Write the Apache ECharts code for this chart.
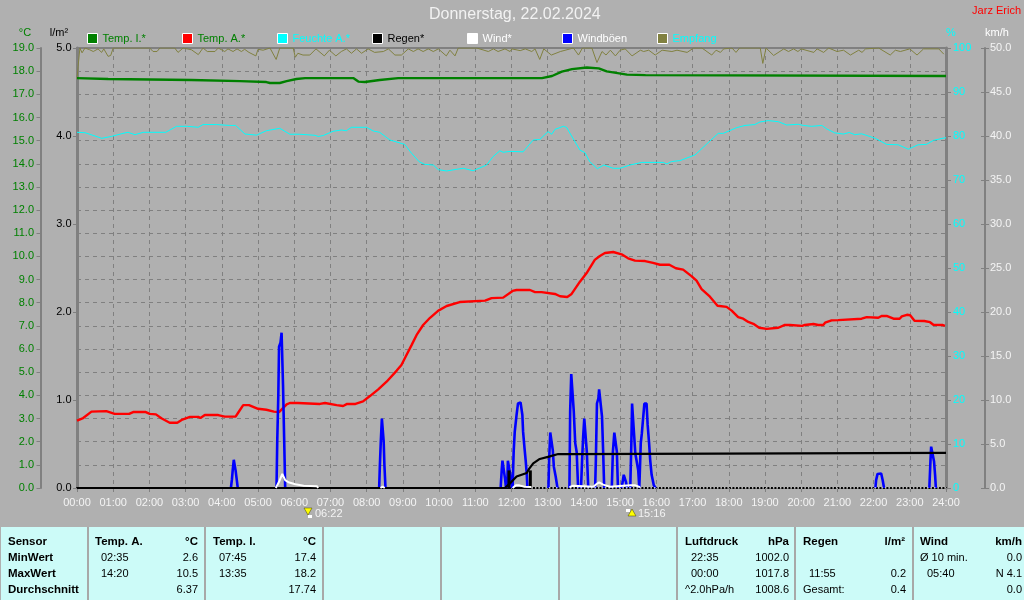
<!DOCTYPE html>
<html><head><meta charset="utf-8">
<style>html,body{margin:0;padding:0;background:#b0b0b0}#c{width:1024px;height:600px}</style>
<script src="https://cdn.jsdelivr.net/npm/echarts@6/dist/echarts.min.js"></script>
</head><body><div id="c"></div>
<script>
const titleText = "Donnerstag, 22.02.2024";
const ownerText = "Jarz Erich";
const tempI = [[0,17.7],[0.86,17.66],[3.16,17.62],[4.5,17.57],[5.23,17.53],[5.33,17.49],[5.6,17.49],[5.79,17.57],[6.06,17.66],[6.3,17.7],[7.63,17.7],[7.77,17.55],[7.95,17.53],[8.36,17.62],[8.87,17.7],[12.84,17.7],[13.12,17.79],[13.39,17.98],[13.67,18.09],[14.08,18.16],[14.41,18.12],[14.63,17.99],[15.19,17.85],[15.7,17.83],[15.71,17.79],[24,17.79]];
const tempA = [[0,2.91],[0.17,3.02],[0.4,3.3],[0.81,3.32],[1.04,3.2],[1.44,3.2],[1.55,3.28],[1.9,3.28],[2.01,3.2],[2.18,3.18],[2.33,3.01],[2.56,2.82],[2.77,2.82],[2.89,2.94],[3.12,3.07],[3.35,3.07],[3.41,3.02],[3.53,3.15],[3.9,3.15],[4.08,3.08],[4.38,3.08],[4.45,3.25],[4.59,3.58],[4.75,3.58],[5.0,3.42],[5.23,3.38],[5.44,3.3],[5.58,3.28],[5.79,3.61],[5.88,3.67],[6.1,3.67],[6.13,3.63],[6.71,3.63],[6.75,3.67],[6.85,3.67],[6.89,3.63],[7.17,3.58],[7.21,3.54],[7.35,3.54],[7.46,3.63],[7.69,3.63],[7.9,3.74],[8.09,3.97],[8.32,4.26],[8.55,4.59],[8.83,5.07],[8.96,5.31],[9.1,5.74],[9.24,6.17],[9.38,6.61],[9.56,7.04],[9.75,7.35],[9.98,7.66],[10.21,7.86],[10.57,8.03],[11.27,8.09],[11.45,8.2],[11.77,8.22],[12.03,8.51],[12.14,8.55],[12.51,8.55],[12.65,8.46],[12.83,8.46],[13.2,8.38],[13.34,8.28],[13.54,8.25],[13.66,8.38],[13.89,8.91],[14.07,9.27],[14.3,9.85],[14.44,10.02],[14.58,10.15],[14.81,10.19],[15.04,10.09],[15.22,9.92],[15.41,9.82],[15.69,9.8],[15.91,9.72],[16.1,9.64],[16.36,9.64],[16.54,9.49],[16.74,9.43],[16.97,9.15],[17.11,8.95],[17.25,8.59],[17.48,8.26],[17.69,7.87],[17.94,7.82],[18.08,7.66],[18.26,7.38],[18.4,7.31],[18.54,7.17],[18.68,7.09],[18.84,6.92],[19.05,6.87],[19.37,6.92],[19.55,7.04],[19.69,7.04],[19.74,7.0],[20.03,7.0],[20.1,7.04],[20.34,7.08],[20.47,7.04],[20.61,7.04],[20.66,7.14],[20.84,7.24],[21.02,7.25],[21.07,7.31],[21.67,7.31],[21.81,7.38],[21.86,7.35],[22.13,7.35],[22.22,7.43],[22.36,7.43],[22.55,7.31],[22.72,7.31],[22.78,7.41],[22.92,7.48],[23.01,7.46],[23.13,7.22],[23.4,7.21],[23.56,7.16],[23.65,7.05],[23.9,7.04],[23.97,7.0]];
const humidity = [[0,80.84],[0.22,80.75],[0.58,79.77],[0.68,79.47],[0.95,79.9],[1.27,80.6],[1.41,80.84],[1.6,80.3],[1.83,80.84],[2.45,80.84],[2.75,82.2],[3.05,82.2],[3.35,81.98],[3.48,82.6],[3.85,82.6],[4.22,82.4],[4.38,82.4],[4.64,80.45],[4.96,80.2],[5.23,81.2],[5.6,81.75],[5.88,80.4],[6.15,80.4],[6.2,80.16],[6.57,80.16],[6.66,79.9],[6.8,80.1],[7.07,81.07],[7.3,81.36],[7.44,81.2],[7.58,81.98],[8.0,81.98],[8.18,81.14],[8.36,80.84],[8.64,79.1],[9.05,78.1],[9.24,76.07],[9.45,74.16],[9.6,73.56],[9.84,73.4],[9.98,72.35],[10.21,72.05],[10.53,72.5],[10.67,72.66],[10.94,72.1],[11.31,73.4],[11.49,75.3],[11.68,76.66],[11.77,76.3],[11.96,76.5],[12.0,76.2],[12.32,76.4],[12.37,76.2],[12.6,79.1],[12.78,79.2],[13.01,81],[13.11,80.4],[13.2,81.5],[13.43,82.2],[13.52,81.98],[13.66,80],[13.89,76.8],[14.03,76.2],[14.16,74.16],[14.37,72.57],[14.55,73.4],[14.81,72.66],[15.0,72.66],[15.27,73.4],[15.6,74],[16.19,74],[16.29,73.64],[16.42,74.2],[16.65,74.4],[16.7,74.2],[17.07,75.7],[17.48,78.86],[17.71,80.6],[17.85,80.6],[18.22,81.9],[18.45,82.4],[18.72,82.6],[18.86,83.18],[19.09,83.5],[19.37,83.25],[19.6,82.5],[19.92,82.66],[20.06,82.4],[20.29,82.2],[20.57,82.4],[20.71,81.6],[20.93,80.7],[21.17,80.45],[21.33,80.8],[21.48,80.3],[21.67,80.5],[22.04,79.5],[22.36,78.1],[22.68,78],[22.96,77],[23.23,78],[23.46,78.1],[23.65,79],[23.92,79.5],[24,79.6]];
const rain = [[0,0],[11.82,0],[11.86,0.02],[12.0,0.07],[12.14,0.13],[12.42,0.17],[12.49,0.22],[12.6,0.28],[12.78,0.33],[13.06,0.36],[13.29,0.386],[13.52,0.386],[13.57,0.4],[24,0.4]];
const rainBars = [[11.93,0.2],[12.52,0.2]];
const wind = [[5.49,0],[5.58,0.7],[5.67,1.6],[5.75,0.9],[5.84,0.65],[6.03,0.42],[6.26,0.26],[6.63,0.19],[6.66,0],[6.66,null],[8.38,0],[8.44,0.15],[8.5,0],[8.5,null],[12.03,0],[12.12,0.3],[12.22,0.3],[12.36,0.15],[12.55,0.1],[12.55,null],[13.6,0.1],[13.7,0.25],[14.26,0.15],[14.35,0.45],[14.42,0.64],[14.53,0.38],[14.72,0.15],[14.77,0.3],[14.9,0.2],[15.28,0.3],[15.42,0.3],[15.55,0.1]];
const windDots = [[12.55,0],[24,0]];
const gusts = [[4.25,0],[4.28,1],[4.3,2],[4.33,3.2],[4.36,3.2],[4.38,2],[4.41,1],[4.44,0],[4.44,null],
[5.51,0],[5.53,5.26],[5.56,10.57],[5.58,16.06],[5.62,16.5],[5.65,17.65],[5.68,17.65],[5.69,11.7],[5.72,5.83],[5.75,0],[5.75,null],
[8.345,0],[8.365,2.6],[8.39,5.26],[8.42,7.9],[8.45,7.9],[8.47,5.26],[8.49,2.6],[8.52,0],[8.52,null],
[11.7,0],[11.73,2.05],[11.75,3.1],[11.79,3.1],[11.82,1.1],[11.85,0],[11.85,null],
[11.88,0],[11.9,3.1],[11.95,3.1],[11.98,1.1],[12.01,0],[12.01,null],
[12.03,0],[12.06,4.13],[12.09,6.4],[12.14,8.3],[12.18,9.62],[12.25,9.73],[12.3,8.3],[12.32,6.4],[12.36,4.5],[12.39,3.2],[12.42,1.67],[12.44,0],[12.44,null],
[13.02,0],[13.04,3.2],[13.07,6.3],[13.12,6.3],[13.14,4.3],[13.17,2.4],[13.22,1.3],[13.27,0],[13.27,null],
[13.6,0],[13.62,8.7],[13.65,12.95],[13.7,12.95],[13.72,8.7],[13.76,5.1],[13.8,4.1],[13.84,0],[13.84,null],
[13.92,0],[13.95,3.2],[13.98,5.9],[14.01,7.9],[14.06,7.9],[14.08,4.1],[14.12,0],[14.12,null],
[14.31,0],[14.33,3.2],[14.36,9.6],[14.4,10.2],[14.42,11.2],[14.47,11.2],[14.5,8.1],[14.53,4.3],[14.56,0],[14.56,null],
[14.77,0],[14.8,4.1],[14.84,6.3],[14.88,6.3],[14.91,4.1],[14.94,0],[14.94,null],
[15.04,0],[15.07,0.7],[15.1,1.5],[15.13,1.5],[15.16,0.7],[15.19,0],[15.19,null],
[15.28,0],[15.31,5.1],[15.33,9.6],[15.38,9.6],[15.42,3.9],[15.45,3.2],[15.5,2],[15.53,0],[15.53,null],
[15.53,0],[15.57,5.1],[15.6,6.2],[15.63,7.7],[15.67,9.6],[15.73,9.6],[15.76,7.2],[15.8,5.1],[15.83,3.2],[15.87,1.5],[15.93,0.3],[15.98,0],[15.98,null],
[22.05,0],[22.07,0.9],[22.11,1.6],[22.21,1.65],[22.25,0.9],[22.29,0],[22.29,null],
[23.54,0],[23.57,3],[23.59,4.7],[23.64,4.7],[23.67,3],[23.7,1.4],[23.72,0]];
const reception = [[0,93],[0.03,95.8],[0.08,100],[0.14,98.9],[0.22,100],[0.35,99.6],[0.45,99.2],[0.58,99.8],[0.68,99],[0.74,99.8],[0.86,98.1],[0.93,98.3],[1.0,100],[2.01,100],[2.1,99.2],[2.21,99.2],[2.29,100],[2.7,100],[2.79,99],[2.93,100],[3.16,99.6],[3.35,98.5],[3.48,100],[3.6,99.2],[3.81,99.2],[3.9,100],[4.08,99.2],[4.17,99.8],[4.31,99.2],[4.42,99.8],[4.54,99.2],[4.63,99.7],[4.75,99],[4.94,98.2],[5.0,99.7],[5.14,99.5],[5.33,100],[5.5,97.4],[5.6,100],[5.97,100],[6.03,97.9],[6.1,98.8],[6.24,98.4],[6.43,98.4],[6.6,99.8],[6.83,98.2],[6.97,99.5],[7.15,98.2],[7.3,99.2],[7.44,99.8],[7.58,98.8],[7.72,99.8],[7.86,98.8],[8.04,99.8],[8.22,99],[8.46,99.2],[8.6,99.8],[8.78,98.4],[8.96,98.4],[9.15,99.8],[9.29,99.2],[9.42,99.8],[9.56,99.2],[9.7,99.8],[9.84,99.2],[9.98,99.8],[10.2,98.2],[10.3,99.5],[10.44,98.2],[10.53,100],[11.04,100],[11.36,99.2],[11.5,99.8],[11.63,99.2],[11.82,99.8],[11.96,99.2],[12.01,99.8],[12.24,99.4],[12.38,99.8],[12.56,99.2],[12.65,99.8],[12.78,97.4],[12.89,99.8],[13.1,98.4],[13.35,99.2],[13.71,100],[13.85,98.4],[13.96,100],[14.22,100],[14.36,96.7],[14.5,99.2],[14.61,98.4],[14.73,99.5],[14.87,98.2],[15.0,99.5],[15.14,99.8],[15.33,98.2],[15.56,99.5],[15.65,99.2],[15.79,99.5],[15.97,98.4],[16.16,99.5],[16.43,99.2],[16.57,99.5],[16.85,99],[17.03,100],[17.26,100],[17.53,98.4],[17.65,99.5],[17.77,99],[17.86,99.8],[18.09,100],[18.2,99],[18.3,100],[18.87,100],[18.94,96.5],[19.03,100],[19.24,98.3],[19.52,99.8],[19.65,99.2],[19.79,99.8],[19.91,99.2],[20.0,99.8],[20.35,99],[20.44,99.8],[20.62,99],[20.76,100],[20.99,99.2],[21.17,99.5],[21.36,98.4],[21.59,99.5],[21.68,99],[21.78,99.8],[22.14,100],[22.46,98.4],[22.6,99.5],[22.74,99.2],[23.0,99.8],[23.2,98.4],[23.38,99.8],[23.8,99.8],[23.94,98.6]];

const legendNames = ["Temp. I.*","Temp. A.*","Feuchte A.*","Regen*","Wind*","Windböen","Empfang"];
const legendFill  = ["#008000","#ff0000","#00ffff","#000000","#ffffff","#0000ff","#808040"];
const legendText  = ["#008000","#008000","#00ffff","#000000","#ffffff","#ffffff","#00ffff"];
const legendLeft  = [87,182,277,372,467,562,657];

const tableBold = [
 ["Sensor",8,0,"l"],["MinWert",8,1,"l"],["MaxWert",8,2,"l"],["Durchschnitt",8,3,"l"],
 ["Temp. A.",95,0,"l"],["°C",198,0,"r"],["Temp. I.",213,0,"l"],["°C",316,0,"r"],
 ["Luftdruck",685,0,"l"],["hPa",789,0,"r"],["Regen",803,0,"l"],["l/m²",905,0,"r"],
 ["Wind",920,0,"l"],["km/h",1022,0,"r"]];
const tableText = [
 ["02:35",101,1,"l"],["2.6",198,1,"r"],["14:20",101,2,"l"],["10.5",198,2,"r"],["6.37",198,3,"r"],
 ["07:45",219,1,"l"],["17.4",316,1,"r"],["13:35",219,2,"l"],["18.2",316,2,"r"],["17.74",316,3,"r"],
 ["22:35",691,1,"l"],["1002.0",789,1,"r"],["00:00",691,2,"l"],["1017.8",789,2,"r"],["^2.0hPa/h",685,3,"l"],["1008.6",789,3,"r"],
 ["11:55",809,2,"l"],["0.2",906,2,"r"],["Gesamt:",803,3,"l"],["0.4",906,3,"r"],
 ["Ø 10 min.",920,1,"l"],["0.0",1022,1,"r"],["05:40",927,2,"l"],["N 4.1",1022,2,"r"],["0.0",1022,3,"r"]];
const tableSeparators = [88,205,323,441,559,677,795,913];
const rowY = [541.7,557.7,573.7,589.7];
const unitLabels = [["°C",25,33,"#008000"],["l/m²",59,33,"#000000"],["%",951,33,"#00ffff"],["km/h",997,33,"#ffffff"]];
const sunLabels = [["06:22",315,514],["15:16",638,514]];

const FONT = '"Liberation Sans", Arial, sans-serif';
const hh = v => (v<10?"0":"")+v+":00";
const chart = echarts.init(document.getElementById('c'),null,{renderer:'canvas'});

const txt = (t,x,y,color,font,align) => ({type:'text',z:50,silent:true,style:{text:t,x,y,fill:color,font,align:align||'left',verticalAlign:'middle'}});
const graphics = [
 {type:'rect',z:40,silent:true,shape:{x:1,y:527,width:1023,height:73},style:{fill:'#ccfbf8'}},
 ...tableSeparators.map(x=>({type:'rect',z:41,silent:true,shape:{x:x-1,y:527,width:2,height:73},style:{fill:'#a8a8a8'}})),
 ...tableBold.map(r=>txt(r[0],r[1],rowY[r[2]],'#000','bold 11.5px '+FONT,r[3]==='r'?'right':'left')),
 ...tableText.map(r=>txt(r[0],r[1],rowY[r[2]],'#000','11px '+FONT,r[3]==='r'?'right':'left')),
 ...unitLabels.map(u=>txt(u[0],u[1],u[2],u[3],'11px '+FONT,'center')),
 txt(ownerText,1021,11,'#ff0000','11px '+FONT,'right'),
 ...sunLabels.map(s=>txt(s[0],s[1],s[2],'#f4f4f4','11px '+FONT,'left')),
 {type:'polygon',z:45,silent:true,shape:{points:[[304,508],[312,508],[308,515]]},style:{fill:'#ffff00',stroke:'#404000',lineWidth:0.5}},
 {type:'rect',z:45,silent:true,shape:{x:308,y:515,width:4,height:3},style:{fill:'#ffffff'}},
 {type:'polygon',z:45,silent:true,shape:{points:[[628,516],[636,516],[632,509]]},style:{fill:'#ffff00',stroke:'#404000',lineWidth:0.5}},
 {type:'rect',z:45,silent:true,shape:{x:626,y:509,width:4,height:3},style:{fill:'#ffffff'}}
];

const line = (name,data,yi,color,w,z,extra) => Object.assign({name,type:'line',data,yAxisIndex:yi,showSymbol:false,symbol:'none',z,
  lineStyle:{color,width:w},itemStyle:{color},connectNulls:false,animation:false,silent:true,sampling:null},extra||{});

const yBase = (min,max,interval) => ({type:'value',min,max,interval,scale:false,splitLine:{show:false},axisLine:{show:true,onZero:false},axisTick:{show:false},axisLabel:{show:false}});
const fmt = v => v.toFixed(1);

chart.setOption({
 animation:false,
 backgroundColor:'#b0b0b0',
 textStyle:{fontFamily:FONT},
 title:{text:titleText,left:424,top:2,textStyle:{color:'#f2f2f2',fontSize:16,fontWeight:'normal',fontFamily:FONT}},
 legend:legendNames.map((n,i)=>({
   left:legendLeft[i],top:33,itemWidth:10,itemHeight:10,padding:0,selectedMode:false,icon:'rect',
   data:[{name:n,icon:'rect',itemStyle:{color:legendFill[i],borderColor:'#ffffff',borderWidth:1,opacity:1},textStyle:{color:legendText[i],fontSize:11,fontFamily:FONT,padding:[0,0,0,0]}}]
 })),
 grid:{left:77,right:78,top:48,bottom:112,show:true,borderColor:'#808080',borderWidth:2,backgroundColor:'transparent',containLabel:false},
 xAxis:{type:'value',min:0,max:24,interval:1,
   axisLine:{show:true,onZero:false,lineStyle:{color:'#000',width:2}},
   axisTick:{show:true,length:4,lineStyle:{color:'#808080'}},
   axisLabel:{color:'#f4f4f4',fontSize:11,margin:9,fontFamily:FONT,formatter:hh,showMinLabel:true,showMaxLabel:true},
   splitLine:{show:true,lineStyle:{color:'#808080',type:[4,4],width:1}}},
 yAxis:[
  {...yBase(0,19,1),position:'left',offset:36.5,axisLine:{show:true,onZero:false,lineStyle:{color:'#808080',width:2}},axisTick:{show:true,length:4,lineStyle:{color:'#808080'}},
   axisLabel:{show:true,color:'#008000',fontSize:11,margin:6.5,formatter:fmt,fontFamily:FONT},splitLine:{show:true,lineStyle:{color:'#808080',type:[4,4],width:1}}},
  {...yBase(0,5,1),position:'left',offset:0,axisLine:{show:true,onZero:false,lineStyle:{color:'#808080',width:3}},axisTick:{show:true,length:4,lineStyle:{color:'#808080'}},
   axisLabel:{show:true,color:'#000',fontSize:11,margin:5.5,formatter:fmt,fontFamily:FONT}},
  {...yBase(0,100,10),position:'right',offset:0,axisLine:{show:true,onZero:false,lineStyle:{color:'#808080',width:3}},axisTick:{show:true,length:5,lineStyle:{color:'#808080'}},
   axisLabel:{show:true,color:'#00ffff',fontSize:11,margin:7,fontFamily:FONT}},
  {...yBase(0,50,5),position:'right',offset:39,axisLine:{show:true,onZero:false,lineStyle:{color:'#808080',width:2}},axisTick:{show:true,length:4,inside:true,lineStyle:{color:'#808080'}},
   axisLabel:{show:true,color:'#f4f4f4',fontSize:11,margin:5,formatter:fmt,fontFamily:FONT}},
  {...yBase(0,19,1),position:'left',offset:36.5,axisLine:{show:false},axisTick:{show:true,length:4,inside:true,lineStyle:{color:'#808080'}}},
  {...yBase(0,50,5),position:'right',offset:39,axisLine:{show:false},axisTick:{show:true,length:4,lineStyle:{color:'#808080'}}}
 ],
 series:[
  line("Empfang",reception,2,'#808040',1,3),
  line("Feuchte A.*",humidity,2,'#00ffff',1,4),
  line("Temp. I.*",tempI,0,'#008000',2.4,5),
  line("Temp. A.*",tempA,0,'#ff0000',2.4,6),
  line("Windböen",gusts,3,'#0000ff',2.6,7),
  line("Regen*",rain,1,'#000000',2.2,8),
  {name:"Regen bars",type:'bar',data:rainBars,yAxisIndex:1,barWidth:3,itemStyle:{color:'#000'},z:8,animation:false,silent:true},
  line("Wind*",wind,3,'#ffffff',2,9),
  line("Wind base",windDots,3,'#ffffff',1,9,{lineStyle:{color:'#ffffff',width:1.5,type:[1.5,2]}})
 ],
 graphic:{elements:graphics}
});
</script></body></html>
